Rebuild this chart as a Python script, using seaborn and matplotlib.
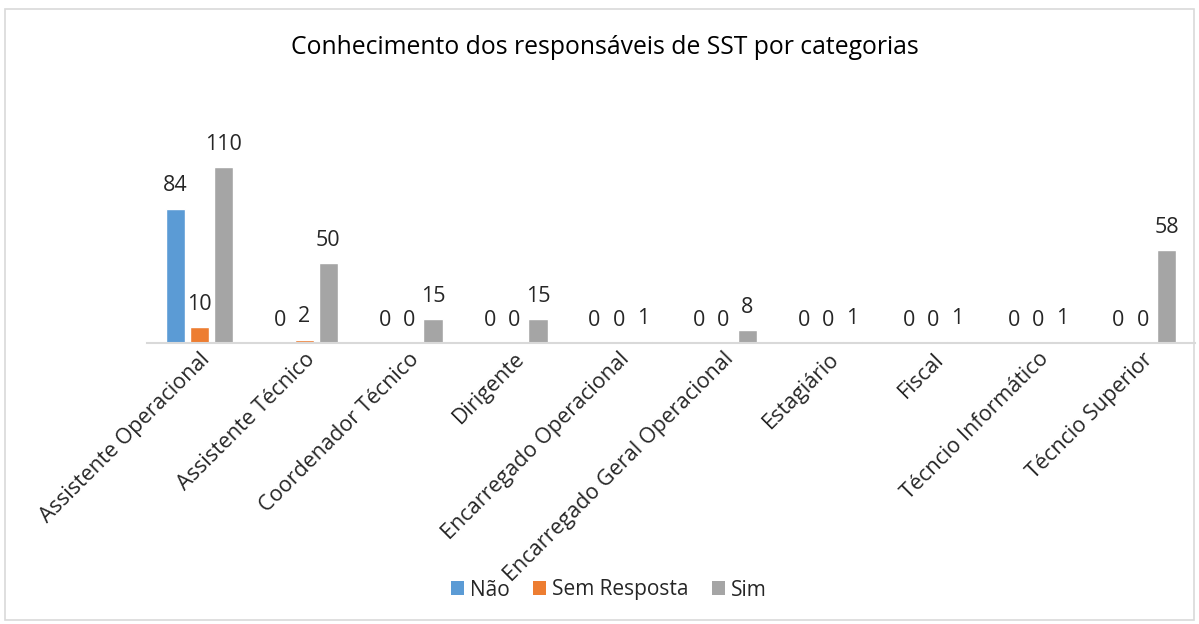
import matplotlib
matplotlib.use("Agg")
import matplotlib.pyplot as plt
import seaborn as sns
import pandas as pd
from matplotlib.patches import Rectangle, Patch

categories = ["Assistente Operacional", "Assistente Técnico", "Coordenador Técnico",
              "Dirigente", "Encarregado Operacional", "Encarregado Geral Operacional",
              "Estagiário", "Fiscal", "Técncio Informático", "Técncio Superior"]
series = ["Não", "Sem Resposta", "Sim"]
nao = [84, 0, 0, 0, 0, 0, 0, 0, 0, 0]
sem_resposta = [10, 2, 0, 0, 0, 0, 0, 0, 0, 0]
sim = [110, 50, 15, 15, 1, 8, 1, 1, 1, 58]
colors = ["#5B9BD5", "#ED7D31", "#A5A5A5"]
title = "Conhecimento dos responsáveis de SST por categorias"

rows = []
for s, vals in zip(series, [nao, sem_resposta, sim]):
    for c, v in zip(categories, vals):
        rows.append({"Categoria": c, "Série": s, "Valor": v})
df = pd.DataFrame(rows)

sns.set_theme(style="white")
plt.rcParams['font.family'] = ['Open Sans', 'DejaVu Sans']

fig = plt.figure(figsize=(11.99, 6.24), dpi=100)
ax = fig.add_axes([147/1199, 1-343/624, (1195-147)/1199, (343-100)/624])

sns.barplot(data=df, x="Categoria", y="Valor", hue="Série", order=categories,
            hue_order=series, palette=colors, width=0.69, gap=0.2,
            saturation=1, ax=ax, legend=False)

ax.set_ylim(0, (343-100)/1.6)
ax.set_xlim(-0.5, len(categories)-0.5)
ax.set_xlabel("")
ax.set_ylabel("")
ax.set_yticks([])
for sp in ["top", "right", "left"]:
    ax.spines[sp].set_visible(False)
ax.spines["bottom"].set_color("#D9D9D9")
ax.spines["bottom"].set_linewidth(1.5)
ax.tick_params(axis="x", length=0, pad=4)
ax.set_xticks(range(len(categories)))
ax.set_xticklabels(categories, rotation=45, ha="right", va="top",
                   rotation_mode="anchor", fontsize=15.5, color="#262626")

for cont in ax.containers:
    ax.bar_label(cont, padding=9, fontsize=15.5, color="#262626")

fig.text(605/1199, 1-47/624, title, ha="center", va="center", fontsize=17.8, color="black")

handles = [Patch(facecolor=c, edgecolor="none") for c in colors]
fig.legend(handles, series, loc="center", bbox_to_anchor=(609/1199, 1-590/624),
           ncol=3, frameon=False, fontsize=15, handlelength=0.63, handleheight=0.63,
           handletextpad=0.3, columnspacing=1.1)

fig.patches.append(Rectangle((5/1199, 4/624), 1189/1199, 611/624, transform=fig.transFigure,
                             fill=False, edgecolor="#D9D9D9", linewidth=1.2))

fig.savefig("out.png", dpi=100)
